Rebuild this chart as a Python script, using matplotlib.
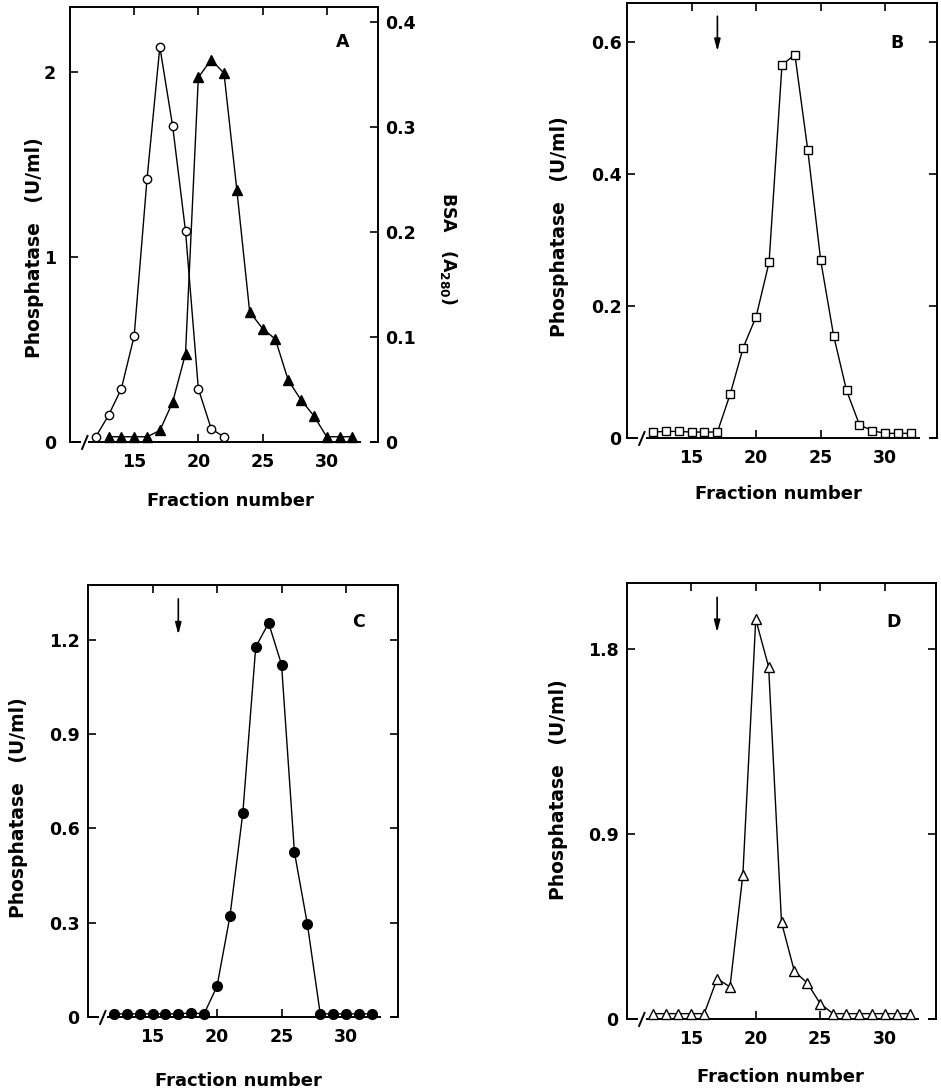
import matplotlib
matplotlib.use("Agg")
import matplotlib.pyplot as plt

plt.rcParams['font.family'] = ['DejaVu Sans']
plt.rcParams['font.weight'] = 'bold'

# ---------------- data ----------------
fractions = list(range(12, 33))
xticks = [15, 20, 25, 30]

# Panel A: phosphatase (open circles, left axis) and BSA A280 (filled triangles, right axis)
a_phos_x = [12, 13, 14, 15, 16, 17, 18, 19, 20, 21, 22]
a_phos_y = [0.027, 0.144, 0.288, 0.573, 1.42, 2.135, 1.706, 1.14, 0.288, 0.072, 0.027]
a_bsa_x = [13, 14, 15, 16, 17, 18, 19, 20, 21, 22, 23, 24, 25, 26, 27, 28, 29, 30, 31, 32]
a_bsa_y = [0.005, 0.005, 0.005, 0.005, 0.011, 0.038, 0.084, 0.347, 0.364, 0.351, 0.240,
           0.124, 0.108, 0.098, 0.059, 0.040, 0.025, 0.005, 0.005, 0.005]
a_left_ticks = [0, 1, 2]
a_right_ticks = [0, 0.1, 0.2, 0.3, 0.4]
a_right_labels = ['0', '0.1', '0.2', '0.3', '0.4']

# Panel B: open squares
b_y = [0.009, 0.010, 0.010, 0.009, 0.009, 0.009, 0.067, 0.137, 0.184, 0.266, 0.565,
       0.581, 0.436, 0.269, 0.155, 0.072, 0.020, 0.011, 0.007, 0.007, 0.007]
b_ticks = [0, 0.2, 0.4, 0.6]
b_labels = ['0', '0.2', '0.4', '0.6']

# Panel C: filled circles
c_y = [0.01, 0.01, 0.01, 0.01, 0.01, 0.01, 0.013, 0.01, 0.098, 0.32, 0.649,
       1.177, 1.253, 1.121, 0.524, 0.296, 0.01, 0.01, 0.01, 0.01, 0.01]
c_ticks = [0, 0.3, 0.6, 0.9, 1.2]
c_labels = ['0', '0.3', '0.6', '0.9', '1.2']

# Panel D: open triangles
d_y = [0.026, 0.026, 0.026, 0.026, 0.026, 0.196, 0.156, 0.702, 1.943, 1.712, 0.470,
       0.232, 0.175, 0.075, 0.026, 0.026, 0.026, 0.026, 0.026, 0.026, 0.026]
d_ticks = [0, 0.9, 1.8]
d_labels = ['0', '0.9', '1.8']

arrow_fraction = 17

# ---------------- figure ----------------
fig = plt.figure(figsize=(9.41, 10.89), dpi=100)

axA = fig.add_axes([0.0744, 0.5941, 0.3273, 0.3994])
axB = fig.add_axes([0.6663, 0.5978, 0.3294, 0.3994])
axC = fig.add_axes([0.0935, 0.0661, 0.3291, 0.3967])
axD = fig.add_axes([0.6663, 0.0643, 0.3284, 0.4004])

LW_SPINE = 1.4
FS = 12.5


def style(ax, ylim, yticks, ylabels, ypad, right_ticks=True):
    ax.set_xlim(10, 34)
    ax.set_ylim(*ylim)
    ax.set_xticks(xticks)
    ax.set_xticklabels([str(t) for t in xticks], fontsize=FS, fontweight='bold')
    ax.set_yticks(yticks)
    ax.set_yticklabels(ylabels, fontsize=FS, fontweight='bold')
    ax.tick_params(axis='x', direction='in', top=True, length=6, width=1.2, pad=8)
    ax.tick_params(axis='y', direction='in', right=right_ticks, length=6, width=1.2, pad=ypad)
    for s in ['left', 'right', 'top']:
        ax.spines[s].set_linewidth(LW_SPINE)
    ax.spines['bottom'].set_visible(False)
    # broken x-axis line
    kw = dict(transform=ax.transAxes, color='black', lw=LW_SPINE, clip_on=False,
              solid_capstyle='butt')
    ax.plot([0.0, 0.035], [0, 0], **kw)
    ax.plot([0.06, 0.945], [0, 0], **kw)
    ax.plot([0.975, 1.0], [0, 0], **kw)
    ax.plot([0.038, 0.058], [-0.018, 0.016], **kw)


def labels(ax, ylab_xy, xlab_xy, panel, panel_xy):
    ax.set_ylabel('Phosphatase   (U/ml)', fontsize=13.5, fontweight='bold')
    ax.yaxis.label.set(va='center', ha='center', rotation_mode='anchor')
    ax.yaxis.set_label_coords(*ylab_xy)
    ax.set_xlabel('Fraction number', fontsize=13, fontweight='bold')
    ax.xaxis.label.set(va='center', ha='center')
    ax.xaxis.set_label_coords(*xlab_xy)
    ax.text(panel_xy[0], panel_xy[1], panel, transform=ax.transAxes, fontsize=FS,
            fontweight='bold', ha='center', va='center')


def arrow(ax, y0, y1):
    ax.annotate('', xy=(arrow_fraction, y1), xytext=(arrow_fraction, y0),
                arrowprops=dict(arrowstyle='-|>,head_length=0.7,head_width=0.18',
                                color='black', lw=1.2, shrinkA=0, shrinkB=0))


# ---- Panel A ----
style(axA, (0, 2.35), a_left_ticks, ['0', '1', '2'], 10, right_ticks=False)
axA.plot(a_phos_x, a_phos_y, '-', color='black', lw=1.0, marker='o', ms=6,
         mfc='white', mec='black', mew=1.0, zorder=3)
axA2 = axA.twinx()
axA2.set_ylim(0, 0.414)
axA2.set_yticks(a_right_ticks)
axA2.set_yticklabels(a_right_labels, fontsize=FS, fontweight='bold')
axA2.tick_params(axis='y', direction='in', length=6, width=1.2, pad=5)
for s in axA2.spines.values():
    s.set_visible(False)
axA2.plot(a_bsa_x, a_bsa_y, '-', color='black', lw=1.0, marker='^', ms=7.5,
          mfc='black', mec='black', zorder=3, clip_on=False)
axA2.set_ylabel('BSA   (A$_{280}$)', fontsize=FS, fontweight='bold', rotation=-90)
axA2.yaxis.label.set(va='center', ha='center', rotation_mode='anchor')
axA2.yaxis.set_label_coords(1.23, 0.445)
labels(axA, (-0.114, 0.448), (0.52, -0.136), 'A', (0.886, 0.92))

# ---- Panel B ----
style(axB, (0, 0.659), b_ticks, b_labels, 4)
axB.plot(fractions, b_y, '-', color='black', lw=1.0, marker='s', ms=6,
         mfc='white', mec='black', mew=1.0, zorder=3, clip_on=False)
arrow(axB, 0.639, 0.586)
labels(axB, (-0.219, 0.487), (0.49, -0.129), 'B', (0.871, 0.908))

# ---- Panel C ----
style(axC, (0, 1.374), c_ticks, c_labels, 6)
axC.plot(fractions, c_y, '-', color='black', lw=1.0, marker='o', ms=7,
         mfc='black', mec='black', zorder=3, clip_on=False)
arrow(axC, 1.33, 1.216)
labels(axC, (-0.223, 0.484), (0.485, -0.148), 'C', (0.875, 0.914))

# ---- Panel D ----
style(axD, (0, 2.12), d_ticks, d_labels, 6)
axD.plot(fractions, d_y, '-', color='black', lw=1.0, marker='^', ms=7,
         mfc='white', mec='black', mew=1.0, zorder=3, clip_on=False)
arrow(axD, 2.05, 1.88)
labels(axD, (-0.223, 0.525), (0.495, -0.133), 'D', (0.864, 0.911))

fig.savefig('out.png', dpi=100)
